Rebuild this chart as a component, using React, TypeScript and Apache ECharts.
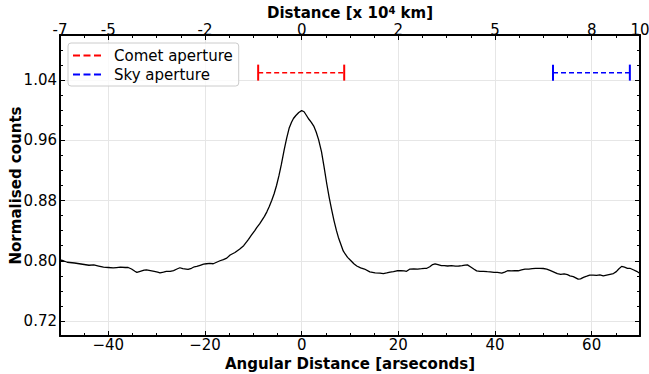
import React, { useEffect, useRef } from 'react';
import * as echarts from 'echarts';

// Angular distance [arcsec] and normalised counts
const angle = [
  -50, -49.3, -48.5, -47, -46, -45, -44, -43, -42, -41, -40, -39, -38.3, -37.5, -36.5, -35.9, -35.2, -34.5, -34.1,
  -33.4, -32.6, -32.1, -31.3, -30.5, -29.8, -29.3, -28.6, -28, -27.2, -26.5, -25.8, -25.2, -24.6, -23.9, -23.5,
  -22.8, -22.2, -21.7, -21, -20.3, -19.7, -19, -18.3, -17.6, -16.9, -16.2, -15.5, -14.8, -13.8, -12.8, -12, -11.4,
  -11, -10.4, -9.7, -9.3, -8.7, -8.2, -7.7, -7.2, -6.7, -6.2, -5.7, -5.2, -4.7, -4.2, -3.6, -3.1, -2.6, -2.1, -1.7,
  -1.2, -0.6, 0, 0.5, 1, 1.5, 2, 2.5, 3, 3.5, 4.1, 4.6, 5.2, 5.7, 6.2, 6.7, 7.2, 7.6, 8.1, 8.6, 9, 9.5, 10.2, 10.8,
  11.4, 12.2, 13, 14.1, 15.2, 16.2, 16.9, 17.6, 18.3, 19, 19.7, 20.5, 21.2, 21.7, 22.4, 23.2, 24, 24.8, 25.5, 25.9,
  26.5, 27.1, 27.6, 28.2, 28.9, 29.5, 30.2, 31, 31.8, 32.5, 33.2, 33.8, 34.3, 34.9, 35.6, 36.2, 36.9, 37.6, 38.4,
  39, 39.8, 40.5, 41.4, 42, 42.6, 43.4, 44.1, 44.8, 45.5, 46.2, 47, 47.7, 48.4, 49.3, 50, 50.7, 51.5, 52.2, 52.9,
  53.6, 54.3, 55, 55.5, 56.2, 56.8, 57.2, 57.7, 58.3, 59, 59.6, 60.3, 61, 61.7, 62.4, 63.1, 63.8, 64.5, 65.1, 65.6,
  66.2, 66.8, 67.4, 67.9, 68.6, 69.3, 70,
];
const counts = [
  0.801, 0.8, 0.798, 0.797, 0.796, 0.795, 0.794, 0.7945, 0.793, 0.7915, 0.791, 0.7905, 0.791, 0.7915, 0.791, 0.791,
  0.789, 0.786, 0.7845, 0.786, 0.7875, 0.7878, 0.787, 0.786, 0.785, 0.784, 0.785, 0.786, 0.7858, 0.787, 0.789,
  0.7907, 0.7895, 0.789, 0.7885, 0.79, 0.792, 0.7925, 0.794, 0.7955, 0.796, 0.7965, 0.796, 0.798, 0.8, 0.8015,
  0.8035, 0.8076, 0.811, 0.8156, 0.82, 0.825, 0.8285, 0.834, 0.84, 0.844, 0.849, 0.854, 0.859, 0.865, 0.872, 0.88,
  0.889, 0.9, 0.913, 0.928, 0.948, 0.963, 0.976, 0.984, 0.989, 0.993, 0.997, 0.9995, 0.998, 0.993, 0.988, 0.984,
  0.979, 0.971, 0.961, 0.945, 0.926, 0.902, 0.884, 0.868, 0.853, 0.84, 0.831, 0.822, 0.813, 0.809, 0.8045, 0.8,
  0.796, 0.793, 0.7905, 0.789, 0.7853, 0.784, 0.7835, 0.783, 0.7838, 0.785, 0.7855, 0.7867, 0.787, 0.7865, 0.786,
  0.789, 0.7893, 0.789, 0.7895, 0.79, 0.79, 0.792, 0.795, 0.796, 0.795, 0.7935, 0.7935, 0.793, 0.7935, 0.7928,
  0.793, 0.7935, 0.7942, 0.7945, 0.792, 0.789, 0.7865, 0.786, 0.786, 0.7855, 0.7853, 0.7845, 0.7845, 0.7836, 0.785,
  0.7867, 0.7865, 0.787, 0.7867, 0.788, 0.789, 0.789, 0.7895, 0.79, 0.79, 0.7897, 0.789, 0.787, 0.785, 0.783, 0.782,
  0.7825, 0.7815, 0.78, 0.779, 0.777, 0.7756, 0.776, 0.778, 0.7795, 0.781, 0.781, 0.7805, 0.7812, 0.78, 0.781, 0.782,
  0.783, 0.7855, 0.789, 0.7925, 0.7915, 0.79, 0.79, 0.788, 0.786, 0.783,
];

const bottomTicks = [-40, -20, 0, 20, 40, 60];
const leftTicks = [0.72, 0.8, 0.88, 0.96, 1.04];
const topTickPos = [-50, -40, -20, 0, 20, 40, 60, 70];
const topTickLabels = ['-7', '-5', '-2', '0', '2', '5', '8', '10'];
const cometAperture = [-9, 8.8];
const skyAperture = [52, 67.9];
const apertureLevel = 1.05;

const FONT = 'DejaVu Sans';
const BLACK = '#000000';
const GRID = '#e6e6e6';

export default function App() {
  const ref = useRef<HTMLDivElement>(null);
  useEffect(() => {
    const chart = echarts.init(ref.current as HTMLDivElement, null, { renderer: 'svg' });
    const spine = { show: true, onZero: false, lineStyle: { color: BLACK, width: 2 } };
    const hiddenLine = { show: false, onZero: false };
    const majorTick = (vals: number[]) => ({
      show: true, inside: true, length: 5, customValues: vals, lineStyle: { color: BLACK, width: 1 },
    });
    const minorTick = { show: true, inside: true, length: 3, lineStyle: { color: BLACK, width: 1 } };
    const labelStyle = { fontSize: 15, fontFamily: FONT, color: BLACK };
    const nameStyle = { fontSize: 15, fontFamily: FONT, fontWeight: 'bold', color: BLACK };
    const close = (a: number, b: number) => Math.abs(a - b) < 1e-6;
    const dashIcon = 'path://M0,0H7V2H0Z M10.5,0H17.5V2H10.5Z M21,0H28V2H21Z';

    const option: any = {
      animation: false,
      backgroundColor: '#ffffff',
      grid: { left: 60, right: 9, top: 35, bottom: 38, containLabel: false, outerBoundsMode: 'none' },
      legend: {
        orient: 'vertical', left: 68, top: 43, padding: [5, 6, 4, 5], itemGap: 4,
        itemWidth: 28, itemHeight: 2,
        borderColor: '#cccccc', borderWidth: 1, borderRadius: 3, backgroundColor: 'rgba(255,255,255,0.8)',
        textStyle: { ...labelStyle, padding: [0, 0, 0, 8] },
        data: [
          { name: 'Comet aperture', icon: dashIcon },
          { name: 'Sky aperture', icon: dashIcon },
        ],
      },
      xAxis: [
        {
          type: 'value', position: 'bottom', min: -50, max: 70,
          axisLine: spine, axisTick: majorTick(bottomTicks),
          axisLabel: {
            ...labelStyle, margin: 2, lineHeight: 14, customValues: bottomTicks,
            formatter: (v: number) => (v < 0 ? '\u2212' + Math.abs(v) : String(v)),
          },
          splitLine: { show: true, lineStyle: { color: GRID, width: 1 } },
          name: 'Angular Distance [arseconds]', nameLocation: 'middle', nameGap: 20, nameMoveOverlap: false,
          nameTextStyle: nameStyle,
        },
        {
          type: 'value', position: 'bottom', min: -50, max: 70, interval: 5,
          axisLine: hiddenLine, axisTick: minorTick, axisLabel: { show: false }, splitLine: { show: false },
        },
        {
          type: 'value', position: 'top', min: -50, max: 70,
          axisLine: spine, axisTick: majorTick(bottomTicks),
          axisLabel: {
            ...labelStyle, margin: -2, customValues: topTickPos,
            formatter: (v: number) => {
              const i = topTickPos.findIndex((p) => close(p, v));
              return i >= 0 ? topTickLabels[i] : '';
            },
          },
          splitLine: { show: false },
          name: 'Distance [x 10{sup|4} km]', nameLocation: 'middle', nameGap: 15, nameMoveOverlap: false,
          nameTextStyle: {
            ...nameStyle,
            rich: { sup: { fontSize: 10, fontFamily: FONT, color: BLACK, verticalAlign: 'top', lineHeight: 10 } },
          },
        },
        {
          type: 'value', position: 'top', min: -50, max: 70, interval: 5,
          axisLine: hiddenLine, axisTick: minorTick, axisLabel: { show: false }, splitLine: { show: false },
        },
      ],
      yAxis: [
        {
          type: 'value', position: 'left', min: 0.7, max: 1.1,
          axisLine: spine, axisTick: majorTick(leftTicks),
          axisLabel: { ...labelStyle, margin: 3, customValues: leftTicks, formatter: (v: number) => v.toFixed(2) },
          splitLine: { show: true, lineStyle: { color: GRID, width: 1 } },
          name: 'Normalised counts', nameLocation: 'middle', nameGap: 37, nameMoveOverlap: false,
          nameTextStyle: nameStyle,
        },
        {
          type: 'value', position: 'left', min: 0.7, max: 1.1, interval: 0.02,
          axisLine: hiddenLine, axisTick: minorTick, axisLabel: { show: false }, splitLine: { show: false },
        },
        {
          type: 'value', position: 'right', min: 0.7, max: 1.1,
          axisLine: spine, axisTick: majorTick(leftTicks),
          axisLabel: { show: false }, splitLine: { show: false },
        },
        {
          type: 'value', position: 'right', min: 0.7, max: 1.1, interval: 0.02,
          axisLine: hiddenLine, axisTick: minorTick, axisLabel: { show: false }, splitLine: { show: false },
        },
      ],
      series: [
        {
          type: 'line', name: 'profile', xAxisIndex: 0, yAxisIndex: 0,
          data: angle.map((a, i) => [a, counts[i]]),
          symbol: 'none', lineStyle: { color: BLACK, width: 1.3 }, z: 3,
        },
        {
          type: 'line', name: 'Comet aperture', xAxisIndex: 0, yAxisIndex: 0,
          data: cometAperture.map((a) => [a, apertureLevel]),
          symbol: 'rect', symbolSize: [2, 16], showSymbol: true,
          itemStyle: { color: '#ff0000' }, lineStyle: { color: '#ff0000', width: 1.5, type: [5, 3] }, z: 4,
        },
        {
          type: 'line', name: 'Sky aperture', xAxisIndex: 0, yAxisIndex: 0,
          data: skyAperture.map((a) => [a, apertureLevel]),
          symbol: 'rect', symbolSize: [2, 16], showSymbol: true,
          itemStyle: { color: '#0000ff' }, lineStyle: { color: '#0000ff', width: 1.5, type: [5, 3] }, z: 4,
        },
      ],
    };
    chart.setOption(option);
    return () => chart.dispose();
  }, []);
  return <div ref={ref} style={{ position: 'fixed', left: 0, top: 0, width: 649, height: 374 }} />;
}
